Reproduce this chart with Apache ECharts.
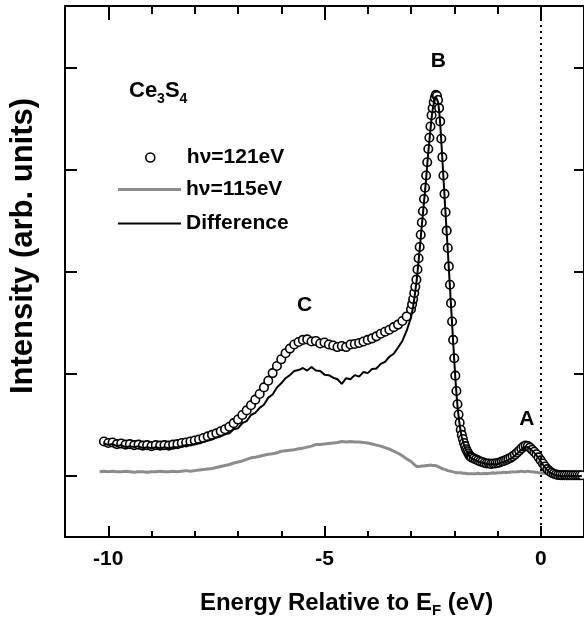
<!DOCTYPE html>
<html>
<head>
<meta charset="utf-8">
<script src="https://cdn.jsdelivr.net/npm/echarts@6/dist/echarts.min.js"></script>
<style>
    html, body { margin: 0; padding: 0; background: #fff; }
    #main { width: 584px; height: 633px; }
</style>
</head>
<body>
<div id="main"></div>
<script>
// energy grid (eV), finer around the B peak
var energy = [
    -10.2, -10.1, -10.0, -9.9, -9.8, -9.7, -9.6, -9.5, -9.4, -9.3, -9.2, -9.1, -9.0, -8.9, -8.8, -8.7, -8.6, -8.5,
    -8.4, -8.3, -8.2, -8.1, -8.0, -7.9, -7.8, -7.7, -7.6, -7.5, -7.4, -7.3, -7.2, -7.1, -7.0, -6.9, -6.8, -6.7,
    -6.6, -6.5, -6.4, -6.3, -6.2, -6.1, -6.0, -5.9, -5.8, -5.7, -5.6, -5.5, -5.4, -5.3, -5.2, -5.1, -5.0, -4.9,
    -4.8, -4.7, -4.6, -4.5, -4.4, -4.3, -4.2, -4.1, -4.0, -3.9, -3.8, -3.7, -3.6, -3.5, -3.4, -3.3, -3.2, -3.1,
    -3.0, -2.975, -2.95, -2.925, -2.9, -2.875, -2.85, -2.825, -2.8, -2.775, -2.75, -2.725, -2.7, -2.675, -2.65,
    -2.625, -2.6, -2.575, -2.55, -2.525, -2.5, -2.475, -2.45, -2.425, -2.4, -2.375, -2.35, -2.325, -2.3, -2.275,
    -2.25, -2.225, -2.2, -2.175, -2.15, -2.125, -2.1, -2.075, -2.05, -2.025, -2.0, -1.975, -1.95, -1.925, -1.9,
    -1.875, -1.85, -1.825, -1.8, -1.775, -1.75, -1.725, -1.7, -1.675, -1.65, -1.625, -1.6,
    -1.55, -1.5, -1.45, -1.4, -1.35, -1.3, -1.25, -1.2, -1.15, -1.1, -1.05, -1.0, -0.95, -0.9, -0.85, -0.8, -0.75,
    -0.7, -0.65, -0.6, -0.55, -0.5, -0.45, -0.4, -0.35, -0.3, -0.25, -0.2, -0.15, -0.1, -0.05, 0.0, 0.05, 0.1,
    0.15, 0.2, 0.25, 0.3, 0.35, 0.4, 0.45, 0.5, 0.55, 0.6, 0.65, 0.7, 0.75, 0.8, 0.85, 0.9, 0.95
];

// hv=121eV (open circles)
var hv121 = [
    null, 0.335, 0.32, 0.325, 0.31, 0.315, 0.305, 0.31, 0.30, 0.305, 0.295, 0.30, 0.29, 0.30, 0.295, 0.30, 0.295, 0.305,
    0.31, 0.32, 0.325, 0.335, 0.345, 0.355, 0.37, 0.385, 0.40, 0.415, 0.435, 0.455, 0.48, 0.515, 0.55, 0.595, 0.64, 0.69,
    0.745, 0.80, 0.865, 0.93, 1.005, 1.075, 1.14, 1.20, 1.245, 1.285, 1.31, 1.33, 1.335, 1.315, 1.32, 1.295, 1.305, 1.285,
    1.275, 1.26, 1.27, 1.26, 1.285, 1.29, 1.30, 1.315, 1.33, 1.345, 1.365, 1.39, 1.41, 1.43, 1.455, 1.48, 1.515, 1.56,
    1.63, 1.68, 1.73, 1.79, 1.85, 1.92, 2.02, 2.13, 2.24, 2.36, 2.48, 2.59, 2.71, 2.82, 2.94,
    3.07, 3.20, 3.31, 3.42, 3.53, 3.60, 3.66, 3.70, 3.73, 3.72, 3.68, 3.60, 3.47, 3.30, 3.12,
    2.94, 2.76, 2.58, 2.40, 2.23, 2.05, 1.87, 1.69, 1.51, 1.33, 1.15, 0.98, 0.83, 0.70, 0.60,
    0.52, 0.45, 0.40, 0.36, 0.32, 0.29, 0.26, 0.24, 0.22, 0.20, 0.19, 0.18,
    0.17, 0.16, 0.15, 0.14, 0.135, 0.125, 0.12, 0.12, 0.115, 0.12, 0.12, 0.125, 0.13, 0.14, 0.145, 0.155, 0.165,
    0.175, 0.19, 0.205, 0.225, 0.245, 0.265, 0.285, 0.295, 0.29, 0.275, 0.255, 0.235, 0.21, 0.18, 0.15, 0.12, 0.09,
    0.065, 0.045, 0.03, 0.02, 0.012, 0.008, 0.006, 0.005, 0.006, 0.004, 0.005, 0.004, 0.005, 0.004, 0.005, 0.004, 0.005
];

// hv=115eV (grey line)
var hv115 = [
    0.04, 0.045, 0.04, 0.045, 0.04, 0.04, 0.045, 0.04, 0.035, 0.04, 0.04, 0.035, 0.04, 0.04, 0.045, 0.04, 0.04, 0.045,
    0.04, 0.045, 0.05, 0.045, 0.05, 0.055, 0.06, 0.065, 0.07, 0.08, 0.09, 0.10, 0.11, 0.125, 0.135, 0.145, 0.16, 0.175,
    0.18, 0.19, 0.20, 0.21, 0.215, 0.225, 0.24, 0.245, 0.25, 0.255, 0.265, 0.27, 0.28, 0.29, 0.305, 0.305, 0.31, 0.315,
    0.32, 0.325, 0.335, 0.33, 0.335, 0.33, 0.33, 0.325, 0.32, 0.31, 0.30, 0.29, 0.275, 0.26, 0.24, 0.22, 0.195, 0.165,
    0.14, 0.13, 0.12, 0.11, 0.10, 0.095, 0.09, 0.085, 0.09, 0.09, 0.095, 0.10, 0.095, 0.10, 0.10,
    0.105, 0.10, 0.10, 0.105, 0.10, 0.10, 0.105, 0.10, 0.10, 0.095, 0.09, 0.085, 0.08, 0.075, 0.07,
    0.065, 0.06, 0.06, 0.055, 0.05, 0.05, 0.045, 0.045, 0.04, 0.04, 0.035, 0.035, 0.03, 0.03, 0.03,
    0.025, 0.03, 0.025, 0.025, 0.02, 0.025, 0.02, 0.02, 0.025, 0.02, 0.02, 0.02,
    0.02, 0.02, 0.025, 0.02, 0.02, 0.025, 0.02, 0.025, 0.025, 0.03, 0.025, 0.03, 0.03, 0.03, 0.035, 0.03, 0.035,
    0.035, 0.04, 0.035, 0.04, 0.04, 0.045, 0.04, 0.04, 0.045, 0.04, 0.04, 0.035, 0.035, 0.03, 0.03, 0.025, 0.025,
    0.02, 0.02, 0.02, 0.015, 0.02, 0.015, 0.015, 0.02, 0.015, 0.015, 0.015, 0.02, 0.015, 0.015, 0.015, 0.015, null
];

// Difference (black line)
var diff = [
    null, 0.32, 0.30, 0.31, 0.29, 0.30, 0.28, 0.29, 0.28, 0.29, 0.27, 0.28, 0.27, 0.28, 0.27, 0.28, 0.27, 0.28,
    0.28, 0.29, 0.30, 0.30, 0.31, 0.32, 0.33, 0.345, 0.355, 0.375, 0.385, 0.405, 0.415, 0.455, 0.465, 0.515, 0.535, 0.595,
    0.615, 0.665, 0.695, 0.765, 0.795, 0.865, 0.905, 0.955, 0.985, 1.025, 1.035, 1.055, 1.03, 1.065, 1.03, 1.025, 0.99, 0.985,
    0.96, 0.945, 0.90, 0.955, 0.945, 0.985, 0.97, 1.015, 1.005, 1.045, 1.05, 1.095, 1.115, 1.165, 1.195, 1.255, 1.32, 1.42,
    1.55, 1.60, 1.66, 1.73, 1.81, 1.89, 1.99, 2.10, 2.21, 2.33, 2.45, 2.56, 2.68, 2.79, 2.91,
    3.04, 3.17, 3.28, 3.39, 3.50, 3.58, 3.64, 3.68, 3.71, 3.70, 3.66, 3.58, 3.45, 3.28, 3.10,
    2.92, 2.74, 2.56, 2.38, 2.21, 2.03, 1.85, 1.67, 1.49, 1.31, 1.13, 0.96, 0.81, 0.68, 0.58,
    0.50, 0.43, 0.38, 0.34, 0.30, 0.27, 0.25, 0.23, 0.21, 0.19, 0.18, 0.17,
    0.16, 0.15, 0.14, 0.135, 0.125, 0.12, 0.115, 0.11, 0.11, 0.115, 0.11, 0.115, 0.12, 0.13, 0.135, 0.145, 0.155,
    0.165, 0.18, 0.195, 0.215, 0.235, 0.255, 0.275, 0.285, 0.28, 0.265, 0.245, 0.225, 0.20, 0.17, 0.14, 0.11, 0.08,
    0.055, 0.035, 0.02, 0.01, 0.005, 0.0, 0.0, -0.005, 0.0, -0.005, 0.0, -0.005, 0.0, -0.005, 0.0, -0.005, 0.0
];

var xMajor = [-10, -5, 0];
var yTicks = [0, 1, 2, 3, 4];

// peak labels, in data units
var peakNames = ['B', 'C', 'A'];
var peakPos = [[-2.37, 4.06], [-5.46, 1.67], [-0.32, 0.55]];

var cFont = "'Liberation Sans', Arial, Helvetica, sans-serif";

function toPairs(aVal) {
    var aOut = [];
    for (var i = 0; i < energy.length; i++) {
        if (aVal[i] !== null && aVal[i] !== undefined) {
            aOut.push([energy[i], aVal[i]]);
        }
    }
    return aOut;
}

var aoPeak = [];
for (var i = 0; i < peakNames.length; i++) {
    aoPeak.push({name: peakNames[i], coord: peakPos[i]});
}

var oTick = {color: '#000', width: 2};

// frame axis helpers
function xAxisCfg(cPos, nLen, aCustom, bLine) {
    var o = {
        type: 'value', position: cPos, min: -11, max: 1, interval: 1,
        axisLine: {show: bLine, onZero: false, lineStyle: {color: '#000', width: 2}},
        axisTick: {show: true, inside: true, length: nLen, lineStyle: oTick},
        axisLabel: {show: false},
        splitLine: {show: false}
    };
    if (aCustom) {
        o.axisTick.customValues = aCustom;
    }
    return o;
}

var oBottom = xAxisCfg('bottom', 6, null, true);
oBottom.axisLabel = {
    show: true, customValues: xMajor, color: '#000', fontSize: 21, fontWeight: 'bold',
    fontFamily: cFont, margin: 12
};
oBottom.name = '{a|Energy Relative to E}{s|F}{a| (eV)}';
oBottom.nameLocation = 'middle';
oBottom.nameGap = 52;
oBottom.nameTextStyle = {
    padding: [0, 0, 0, 44],
    rich: {
        a: {fontSize: 24, fontWeight: 'bold', fontFamily: cFont, color: '#000'},
        s: {fontSize: 15, fontWeight: 'bold', fontFamily: cFont, color: '#000', padding: [14, 0, 0, 0], verticalAlign: 'bottom'}
    }
};

// legend text
var oLegText = {color: '#000', fontSize: 21, lineHeight: 20, fontWeight: 'bold', fontFamily: cFont};

var oChart = echarts.init(document.getElementById('main'));

var oOpt = {
    animation: false,
    backgroundColor: '#fff',
    grid: {left: 64, right: -1, top: 6, bottom: 96, containLabel: false},
    xAxis: [
        oBottom,
        xAxisCfg('bottom', 11, xMajor, false),
        xAxisCfg('top', 8, null, true),
        xAxisCfg('top', 14, xMajor, false)
    ],
    yAxis: [{
        type: 'value', position: 'left', min: -0.6, max: 4.6,
        axisLine: {show: true, onZero: false, lineStyle: {color: '#000', width: 2}},
        axisTick: {show: true, inside: true, length: 12, customValues: yTicks, lineStyle: oTick},
        axisLabel: {show: false},
        splitLine: {show: false},
        name: 'Intensity (arb. units)',
        nameLocation: 'middle',
        nameGap: 26,
        nameTextStyle: {
            fontSize: 31, fontWeight: 'bold', fontFamily: cFont, color: '#000',
            padding: [0, 0, 0, 51]
        }
    }, {
        type: 'value', position: 'right', min: -0.6, max: 4.6,
        axisLine: {show: true, onZero: false, lineStyle: {color: '#000', width: 2}},
        axisTick: {show: true, inside: true, length: 10, customValues: yTicks, lineStyle: oTick},
        axisLabel: {show: false},
        splitLine: {show: false}
    }],
    legend: [{
        left: 145, top: 147, padding: 0, itemWidth: 9, itemHeight: 9, selectedMode: false,
        textStyle: echarts.util.extend({padding: [0, 0, 0, 27]}, oLegText),
        data: [{name: 'hν=121eV', icon: 'circle', itemStyle: {color: '#fff', borderColor: '#000', borderWidth: 1.6}}]
    }, {
        left: 118, top: 179, padding: 0, itemWidth: 63, itemHeight: 3, selectedMode: false,
        textStyle: oLegText,
        data: [{name: 'hν=115eV', icon: 'rect', itemStyle: {color: '#8c8c8c', borderWidth: 0}}]
    }, {
        left: 118, top: 213, padding: 0, itemWidth: 63, itemHeight: 2, selectedMode: false,
        textStyle: oLegText,
        data: [{name: 'Difference', icon: 'rect', itemStyle: {color: '#000', borderWidth: 0}}]
    }],
    graphic: [{
        type: 'text', left: 129, top: 80,
        style: {
            text: '{a|Ce}{s|3}{a|S}{s|4}',
            rich: {
                a: {fontSize: 22, fontWeight: 'bold', fontFamily: cFont, fill: '#000'},
                s: {fontSize: 14, fontWeight: 'bold', fontFamily: cFont, fill: '#000', padding: [16, 0, 0, 0], verticalAlign: 'bottom'}
            }
        }
    }],
    series: [{
        name: 'hν=115eV',
        type: 'line',
        data: toPairs(hv115),
        symbol: 'none',
        lineStyle: {color: '#8c8c8c', width: 3},
        itemStyle: {color: '#8c8c8c'},
        z: 2
    }, {
        name: 'hν=121eV',
        type: 'scatter',
        data: toPairs(hv121),
        symbol: 'circle',
        symbolSize: 8.5,
        itemStyle: {color: '#fff', borderColor: '#000', borderWidth: 1.6, opacity: 1},
        z: 3
    }, {
        name: 'Difference',
        type: 'line',
        data: toPairs(diff),
        symbol: 'none',
        lineStyle: {color: '#000', width: 2},
        itemStyle: {color: '#000'},
        z: 4,
        // Fermi level
        markLine: {
            silent: true,
            symbol: ['none', 'none'],
            label: {show: false},
            lineStyle: {color: '#000', width: 2, type: [2, 4]},
            data: [{xAxis: 0}]
        },
        markPoint: {
            silent: true,
            symbol: 'rect',
            symbolSize: 1,
            itemStyle: {color: 'rgba(0,0,0,0)'},
            label: {
                show: true, position: 'inside', formatter: '{b}', color: '#000',
                fontSize: 21, fontWeight: 'bold', fontFamily: cFont
            },
            data: aoPeak
        }
    }]
};

oChart.setOption(oOpt);
</script>
</body>
</html>
